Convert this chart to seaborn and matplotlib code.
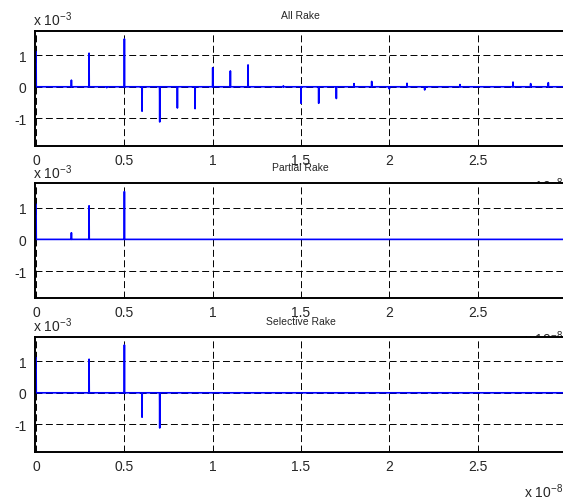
import numpy as np
import matplotlib
matplotlib.use('Agg')
import matplotlib.pyplot as plt
import seaborn as sns

sns.set_style('white')
plt.rcParams['font.family'] = ['Liberation Sans', 'DejaVu Sans']
plt.rcParams['mathtext.default'] = 'regular'
plt.rcParams['axes.unicode_minus'] = False
plt.rcParams['lines.scale_dashes'] = False

# tap delays (ns) and tap gains (x 1e-3)
delay_ns = list(range(30))
all_rake = [1.11, 0, 0.21, 1.06, -0.03, 1.51, -0.77, -1.11, -0.67, -0.69,
            0.60, 0.50, 0.69, 0, 0.03, -0.52, -0.52, -0.37, 0.10, 0.17,
            -0.07, 0.11, -0.10, 0, 0.07, 0, 0, 0.15, 0.10, 0.13]
partial_rake = [1.11, 0, 0.21, 1.06, 0, 1.51, 0, 0, 0, 0,
                0, 0, 0, 0, 0, 0, 0, 0, 0, 0,
                0, 0, 0, 0, 0, 0, 0, 0, 0, 0]
selective_rake = [1.11, 0, 0, 1.06, 0, 1.51, -0.77, -1.11, 0, 0,
                  0, 0, 0, 0, 0, 0, 0, 0, 0, 0,
                  0, 0, 0, 0, 0, 0, 0, 0, 0, 0]
titles = ['All Rake', 'Partial Rake', 'Selective Rake']

xtick_vals = [0, 0.5, 1, 1.5, 2, 2.5]
xtick_labels = ['0', '0.5', '1', '1.5', '2', '2.5']
ytick_vals = [-1, 0, 1]
ytick_labels = ['-1', '0', '1']

# sample grid for the impulse response (0.01 ns steps)
dt = 1e-11
t = np.arange(3001) * dt

fig = plt.figure(figsize=(5.63, 5.02), dpi=100)
bottoms = [0.7078, 0.4038, 0.0982]
left, width, height = 0.0622, 0.9431, 0.229

for gains, title, b in zip([all_rake, partial_rake, selective_rake], titles, bottoms):
    ax = fig.add_axes([left, b, width, height])
    sig = np.zeros_like(t)
    for d, g in zip(delay_ns, gains):
        sig[int(round(d * 1e-9 / dt))] = g * 1e-3
    sns.lineplot(x=t, y=sig, ax=ax, color='#0000FF', lw=1.2, sort=False)

    ax.set_xlim(-6e-11, 3e-8)
    ax.set_ylim(-1.86e-3, 1.77e-3)
    ax.set_xticks([v * 1e-8 for v in xtick_vals])
    ax.set_xticklabels(xtick_labels)
    ax.set_yticks([v * 1e-3 for v in ytick_vals])
    ax.set_yticklabels(ytick_labels)
    ax.tick_params(direction='in', length=3, labelsize=10, width=0.8)
    ax.tick_params(axis='x', pad=5)
    ax.tick_params(axis='y', pad=6)
    ax.grid(True, color='k', lw=0.7, linestyle=(0, (5, 2.5)))
    for s in ax.spines.values():
        s.set_linewidth(1.4)
        s.set_color('k')
    ax.set_title(title, fontsize=7.5, pad=9.5)
    ax.set_xlabel('')
    ax.set_ylabel('')

    ax.text(-0.004, 1.02, r'x 10$^{-3}$', transform=ax.transAxes,
            fontsize=10, ha='left', va='bottom')
    ax.text(0.92, -0.34, r'x 10$^{-8}$', transform=ax.transAxes,
            fontsize=10, ha='left', va='center', clip_on=False)

fig.savefig('out.png', dpi=100)
